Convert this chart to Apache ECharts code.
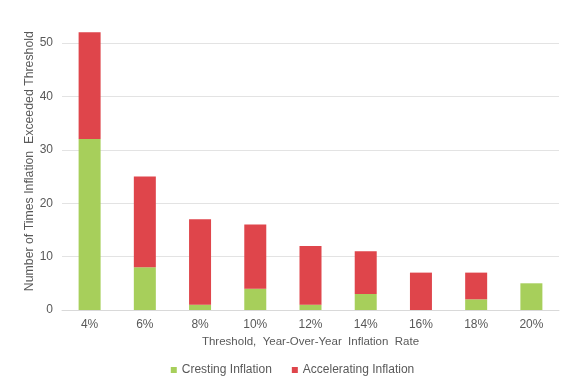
<!DOCTYPE html>
<html><head><meta charset="utf-8">
<script src="https://cdn.jsdelivr.net/npm/echarts@6/dist/echarts.min.js"></script>
<style>html,body{margin:0;padding:0;background:#fff}#c{width:585px;height:390px}</style>
</head><body><div id="c"></div>
<script>
const categories = ['4%','6%','8%','10%','12%','14%','16%','18%','20%'];
const cresting = [32, 8, 1, 4, 1, 3, 0, 2, 5];
const accelerating = [20, 17, 16, 12, 11, 8, 7, 5, 0];
const yTicks = [0, 10, 20, 30, 40, 50];

const font = 'Liberation Sans, Arial, sans-serif';
const chart = echarts.init(document.getElementById('c'));
chart.setOption({
  animation: false,
  grid: { left: 62, right: 26, top: 32.3, bottom: 80 },
  legend: {
    bottom: 9, left: 'center', itemWidth: 6, itemHeight: 6, itemGap: 20,
    icon: 'rect',
    textStyle: { fontFamily: font, fontSize: 12, color: '#595959' },
    data: ['Cresting Inflation', 'Accelerating Inflation']
  },
  xAxis: {
    type: 'category', data: categories,
    name: 'Threshold,  Year-Over-Year  Inflation  Rate',
    nameLocation: 'middle', nameGap: 26,
    nameTextStyle: { fontFamily: font, fontSize: 11.5, color: '#595959' },
    axisLine: { lineStyle: { color: '#d9d9d9' } },
    axisTick: { show: false },
    axisLabel: { fontFamily: font, fontSize: 12, color: '#595959', margin: 9 }
  },
  yAxis: {
    type: 'value', min: 0, max: 52, interval: 10,
    name: 'Number of Times Inflation  Exceeded Threshold',
    nameLocation: 'middle', nameGap: 26, nameRotate: 90, nameMoveOverlap: false,
    nameTextStyle: { fontFamily: font, fontSize: 12.3, color: '#595959', padding: [0, 0, 0, 20] },
    axisLine: { show: false }, axisTick: { show: false },
    axisLabel: { fontFamily: font, fontSize: 12, color: '#595959', margin: 9,
      showMaxLabel: false,
      formatter: v => yTicks.includes(v) ? String(v) : '' },
    splitLine: { show: false }
  },
  series: [
    { name: 'Cresting Inflation', type: 'bar', stack: 's', data: cresting,
      barWidth: 22, itemStyle: { color: '#a7cf5b' }, z: 3,
      markLine: {
        silent: true, symbol: 'none', label: { show: false }, z: 1,
        lineStyle: { color: '#e3e3e3', type: 'solid', width: 1 },
        data: yTicks.filter(v => v > 0).map(v => ({ yAxis: v }))
      }
    },
    { name: 'Accelerating Inflation', type: 'bar', stack: 's', data: accelerating,
      barWidth: 22, itemStyle: { color: '#df454b' }, z: 3 }
  ]
});
</script></body></html>
